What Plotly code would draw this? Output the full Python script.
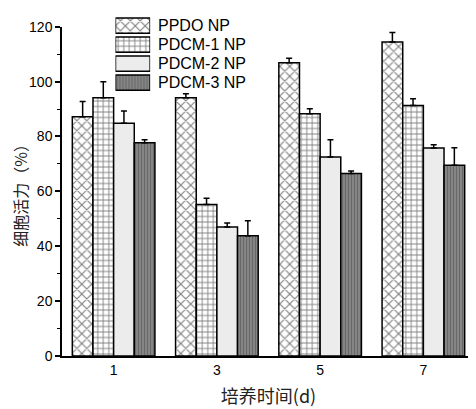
import plotly.graph_objects as go

days = ["1", "3", "5", "7"]
series_names = ["PPDO NP", "PDCM-1 NP", "PDCM-2 NP", "PDCM-3 NP"]
ppdo = [87.2, 94.1, 106.9, 114.4]
pdcm1 = [94.1, 55.2, 88.3, 91.3]
pdcm2 = [84.8, 47.0, 72.5, 75.8]
pdcm3 = [77.7, 43.8, 66.5, 69.5]
err_ppdo = [5.6, 1.5, 1.6, 3.5]
err_pdcm1 = [5.9, 2.3, 1.8, 2.5]
err_pdcm2 = [4.5, 1.5, 6.3, 1.2]
err_pdcm3 = [1.1, 5.5, 0.9, 6.4]
y_ticks = [0, 20, 40, 60, 80, 100, 120]

values = [ppdo, pdcm1, pdcm2, pdcm3]
errors = [err_ppdo, err_pdcm1, err_pdcm2, err_pdcm3]
styles = [
    dict(color="white", pattern=dict(shape="x", fgcolor="black", bgcolor="white", size=7, solidity=0.3)),
    dict(color="white", pattern=dict(shape="+", fgcolor="black", bgcolor="white", size=5.5, solidity=0.3)),
    dict(color="#ececec", pattern=dict(shape="")),
    dict(color="#7c7c7c", pattern=dict(shape="|", fgcolor="#474747", bgcolor="#888888", size=3, solidity=0.4)),
]

W, H = 468, 401
L, R, T, B = 50, 1, 0, 53
plot_h = H - T - B
y_top_px = 11  # top of y axis (120) in figure px
main_dom_top = 1 - (y_top_px - T) / plot_h
leg_h = 78
leg_dom = [1 - leg_h / plot_h, 1]
plot_w = W - L - R
sw_x0, sw_x1 = 104, 139
leg_x_dom = [(sw_x0 - L) / plot_w, (sw_x1 - L) / plot_w]

fig = go.Figure()
for name, vals, errs, st in zip(series_names, values, errors, styles):
    fig.add_trace(go.Bar(
        x=days, y=vals, name=name, showlegend=False,
        marker=dict(color=st["color"], pattern=st["pattern"], line=dict(color="black", width=1.5)),
        error_y=dict(type="data", array=errs, arrayminus=[0] * len(errs), symmetric=False,
                     color="black", thickness=1.5, width=3),
    ))

# legend swatches drawn on a small overlay axis
for name, st in zip(series_names, styles):
    fig.add_trace(go.Bar(
        x=[1], y=[name], orientation="h", xaxis="x2", yaxis="y2", showlegend=False,
        hoverinfo="skip",
        marker=dict(color=st["color"], pattern=st["pattern"], line=dict(color="black", width=1.5)),
    ))

annotations = [
    dict(text=name, x=(sw_x1 - L + 6) / plot_w, xref="paper", xanchor="left",
         y=name, yref="y2", yanchor="middle", showarrow=False,
         font=dict(family="Liberation Sans, Arial", size=16, color="black"))
    for name in series_names
]

fig.update_layout(
    width=W, height=H,
    margin=dict(l=L, r=R, t=T, b=B),
    plot_bgcolor="rgba(0,0,0,0)", paper_bgcolor="white",
    barmode="group", bargap=0.2, bargroupgap=0,
    font=dict(family="Liberation Sans, Arial", size=14, color="black"),
    showlegend=False,
    annotations=annotations,
    xaxis=dict(
        type="category", range=[-0.5, 3.5],
        showline=True, linecolor="black", linewidth=1.5,
        ticks="", showgrid=False, zeroline=False,
        title=dict(text="培养时间(d)", font=dict(family="Noto Sans CJK SC", size=18, color="#222222"), standoff=14),
    ),
    yaxis=dict(
        domain=[0, main_dom_top],
        range=[0, 120], tickvals=y_ticks,
        showline=True, linecolor="black", linewidth=1.5,
        ticks="outside", ticklen=5, tickwidth=1.5, tickcolor="black",
        minor=dict(ticks="outside", ticklen=3, dtick=10, tickcolor="black", tickwidth=1),
        showgrid=False, zeroline=False,
        title=dict(text="细胞活力（%）", font=dict(family="Noto Sans CJK SC", size=16, color="#222222"), standoff=10),
    ),
    xaxis2=dict(domain=leg_x_dom, anchor="y2", range=[0, 1], visible=False, fixedrange=True),
    yaxis2=dict(domain=leg_dom, anchor="x2", type="category", categoryorder="array",
                categoryarray=series_names[::-1], range=[-0.5, 3.5], visible=False, fixedrange=True),
)

fig.write_html("out.html")
